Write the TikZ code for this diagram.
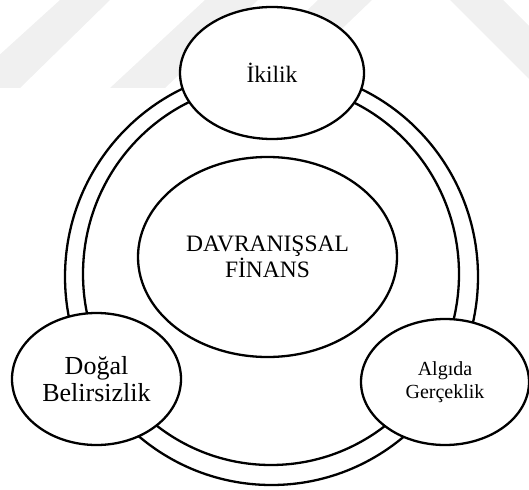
\documentclass[tikz,border=0pt]{standalone}
\usepackage{fontspec}
\setmainfont{Liberation Serif}
\usetikzlibrary{shapes.geometric}
\begin{document}
\begin{tikzpicture}[x=1pt,y=-1pt,
  ring/.style={line width=2.3pt, draw=black},
  bubble/.style={ellipse, draw=black, line width=2.3pt, fill=white, inner sep=0pt, align=center, text=black},
  wm/.style={fill=black!6, draw=none}]
\useasboundingbox (0,0) rectangle (529,489);
% faint background watermark stripes
\begin{scope}
\clip (0,0) rectangle (529,489);
\fill[wm] (60,0) -- (110,0) -- (20,88) -- (-37,88) -- cycle;
\fill[wm] (205,0) -- (258,0) -- (165,88) -- (110,88) -- cycle;
\fill[wm] (318,0) -- (372,0) -- (280,88) -- (226,88) -- cycle;
\fill[wm] (450,0) -- (503,0) -- (529,26) -- (529,79) -- cycle;
\end{scope}
% double ring
\draw[ring] (271.5,276.7) ellipse [x radius=206.5pt, y radius=208.3pt];
\draw[ring] (271,274) ellipse [x radius=188pt, y radius=191pt];
% bubbles
\node[bubble, minimum width=184pt, minimum height=132pt,
      font=\fontsize{23.5}{24}\selectfont] (ikilik) at (272,73) {İkilik};
\node[bubble, minimum width=259pt, minimum height=200pt,
      font=\fontsize{23.5}{24}\selectfont] (finans) at (267.5,257) {DAVRANIŞSAL\\FİNANS};
\node[bubble, minimum width=169pt, minimum height=132pt,
      font=\fontsize{26}{27.5}\selectfont] (dogal) at (96.5,379) {Doğal\\Belirsizlik};
\node[bubble, minimum width=168pt, minimum height=126pt,
      font=\fontsize{20}{22.7}\selectfont] (algida) at (445,382) {Algıda\\Gerçeklik};
\end{tikzpicture}
\end{document}
